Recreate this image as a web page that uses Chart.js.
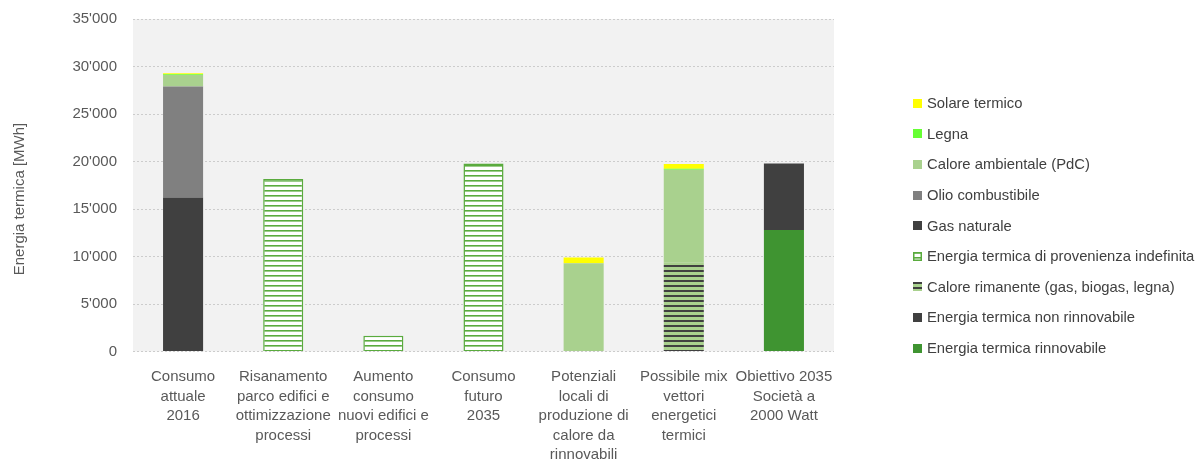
<!DOCTYPE html>
<html lang="it">
<head>
<meta charset="utf-8">
<script src="https://cdn.jsdelivr.net/npm/chart.js@4/dist/chart.umd.min.js"></script>
<style>
  html, body { margin: 0; padding: 0; background: #fff; }
  #wrap { position: relative; width: 1198px; height: 463px; }
  #legend {
    position: absolute; left: 913px; top: 88px;
    font-family: "Liberation Sans", Arial, sans-serif; font-size: 14.8px; color: #404040;
  }
  #legend .item { display: flex; align-items: center; height: 30.6px; white-space: nowrap; }
  #legend canvas { width: 9px; height: 9px; margin-right: 5px; }
</style>
</head>
<body>
<div id="wrap">
  <canvas id="chart" width="1198" height="463"></canvas>
  <div id="legend"></div>
</div>
<script>
const categories = [
    ['Consumo', 'attuale', '2016'],
    ['Risanamento', 'parco edifici e', 'ottimizzazione', 'processi'],
    ['Aumento', 'consumo', 'nuovi edifici e', 'processi'],
    ['Consumo', 'futuro', '2035'],
    ['Potenziali', 'locali di', 'produzione di', 'calore da', 'rinnovabili'],
    ['Possibile mix', 'vettori', 'energetici', 'termici'],
    ['Obiettivo 2035', 'Società a', '2000 Watt']
];

// MWh per categoria
const rinnovabile      = [null, null, null, null, null, null, 12800];
const nonRinnovabile   = [null, null, null, null, null, null, 7000];
const caloreRimanente  = [null, null, null, null, null, 9400, null];
const indefinita       = [null, 18150, 1650, 19800, null, null, null];
const gasNaturale      = [16200, null, null, null, null, null, null];
const olioCombustibile = [11700, null, null, null, null, null, null];
const caloreAmbientale = [1200, null, null, null, 9300, 9730, null];
const legna            = [80, null, null, null, null, 110, null];
const solareTermico    = [100, null, null, null, 600, 500, null];

const yTicks = [0, 5000, 10000, 15000, 20000, 25000, 30000, 35000];
const yTitle = 'Energia termica [MWh]';

const FONT = '"Liberation Sans", Arial, sans-serif';
const TEXT = '#595959';

// righe orizzontali ripetute
function stripes(bg, fg, period, thick) {
    const c = document.createElement('canvas');
    c.width = 8; c.height = period;
    const g = c.getContext('2d');
    g.fillStyle = bg; g.fillRect(0, 0, 8, period);
    g.fillStyle = fg; g.fillRect(0, 0, 8, thick);
    return g.createPattern(c, 'repeat');
}

const green = '#5aab3e';
const hatchIndef = stripes('#ffffff', green, 5, 1.6);
const hatchRiman = stripes('#a9d18e', '#404040', 5, 2);

const datasets = [
    { label: 'Energia termica rinnovabile', data: rinnovabile, backgroundColor: '#3f9431' },
    { label: 'Energia termica non rinnovabile', data: nonRinnovabile, backgroundColor: '#404040' },
    { label: 'Calore rimanente (gas, biogas, legna)', data: caloreRimanente, backgroundColor: hatchRiman },
    { label: 'Energia termica di provenienza indefinita', data: indefinita, backgroundColor: hatchIndef,
      borderColor: green, borderWidth: 1.5 },
    { label: 'Gas naturale', data: gasNaturale, backgroundColor: '#404040' },
    { label: 'Olio combustibile', data: olioCombustibile, backgroundColor: '#808080' },
    { label: 'Calore ambientale (PdC)', data: caloreAmbientale, backgroundColor: '#a9d18e' },
    { label: 'Legna', data: legna, backgroundColor: '#66ff33' },
    { label: 'Solare termico', data: solareTermico, backgroundColor: '#ffff00' }
];

const plotBackground = {
    id: 'plotBackground',
    beforeDraw(chart) {
        const { ctx, chartArea: a } = chart;
        ctx.save();
        ctx.fillStyle = '#f2f2f2';
        ctx.fillRect(a.left, a.top, a.right - a.left, a.bottom - a.top);
        ctx.restore();
    }
};

// titolo asse y, centrato sull'intera altezza
const yAxisTitle = {
    id: 'yAxisTitle',
    afterDraw(chart) {
        const ctx = chart.ctx;
        ctx.save();
        ctx.translate(20, 199);
        ctx.rotate(-Math.PI / 2);
        ctx.font = '15px ' + FONT;
        ctx.fillStyle = TEXT;
        ctx.textAlign = 'center';
        ctx.textBaseline = 'middle';
        ctx.fillText(yTitle, 0, 0);
        ctx.restore();
    }
};

const chart = new Chart(document.getElementById('chart'), {
    type: 'bar',
    data: { labels: categories, datasets: datasets },
    options: {
        responsive: false,
        animation: false,
        layout: { padding: { top: 19, right: 364, left: 0, bottom: 0 } },
        datasets: { bar: { barPercentage: 0.4, categoryPercentage: 1.0, borderWidth: 0 } },
        plugins: { legend: { display: false }, tooltip: { enabled: false } },
        scales: {
            x: {
                stacked: true,
                grid: { display: false },
                border: { display: false },
                ticks: {
                    color: TEXT, padding: 8, maxRotation: 0, autoSkip: false,
                    font: { family: FONT, size: 15, lineHeight: 1.3 }
                },
                afterFit(s) { s.height = 111.5; }
            },
            y: {
                stacked: true,
                min: 0, max: 35000,
                afterBuildTicks(s) { s.ticks = yTicks.map(v => ({ value: v })); },
                grid: { color: '#cccccc', drawTicks: false },
                border: { display: false, dash: [2, 2] },
                ticks: {
                    color: TEXT, padding: 16,
                    font: { family: FONT, size: 15 },
                    callback: v => String(v).replace(/\B(?=(\d{3})+(?!\d))/g, "'")
                },
                afterFit(s) {
                    s.width = 133;
                    s.paddingTop = 0;
                    s.paddingBottom = 0;
                }
            }
        }
    },
    plugins: [plotBackground, yAxisTitle]
});

// legenda, in ordine inverso rispetto all'impilamento
const legendEl = document.getElementById('legend');
datasets.slice().reverse().forEach(ds => {
    const row = document.createElement('div');
    row.className = 'item';
    const box = document.createElement('canvas');
    box.width = 9; box.height = 9;
    const g = box.getContext('2d');
    g.fillStyle = ds.backgroundColor;
    g.fillRect(0, 0, 9, 9);
    if (ds.borderColor) {
        g.strokeStyle = ds.borderColor; g.lineWidth = 1.5;
        g.strokeRect(0.75, 0.75, 7.5, 7.5);
    }
    row.appendChild(box);
    row.appendChild(document.createTextNode(ds.label));
    legendEl.appendChild(row);
});
</script>
</body>
</html>
